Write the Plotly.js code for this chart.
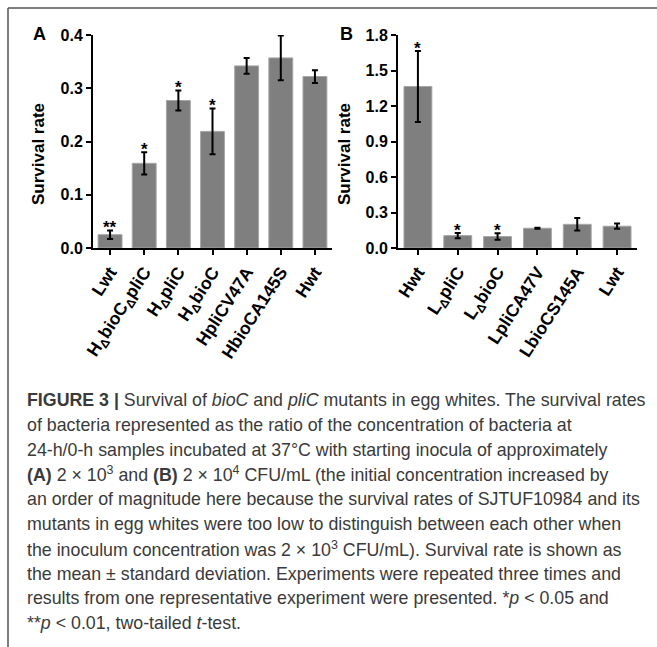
<!DOCTYPE html>
<html>
<head>
<meta charset="utf-8">
<script src="https://cdn.plot.ly/plotly-3.0.1.min.js"></script>
<style>
  html, body { margin: 0; padding: 0; background: #fff; }
  #chart { width: 657px; height: 647px; }
</style>
</head>
<body>
<div id="chart"></div>
<script>
// ---------- data ----------
const labelsA = ['Lwt', 'H<sub>Δ</sub>bioC<sub>Δ</sub>pliC', 'H<sub>Δ</sub>pliC', 'H<sub>Δ</sub>bioC', 'HpliCV47A', 'HbioCA145S', 'Hwt'];
const valuesA = [0.025, 0.159, 0.277, 0.219, 0.342, 0.357, 0.322];
const errorsA = [0.008, 0.021, 0.019, 0.043, 0.015, 0.042, 0.012];
const sigA    = ['**', '*', '*', '*', '', '', ''];

const labelsB = ['Hwt', 'L<sub>Δ</sub>pliC', 'L<sub>Δ</sub>bioC', 'LpliCA47V', 'LbioCS145A', 'Lwt'];
const valuesB = [1.365, 0.105, 0.097, 0.167, 0.200, 0.184];
const errorsB = [0.300, 0.022, 0.027, 0.004, 0.053, 0.022];
const sigB    = ['*', '*', '*', '', '', ''];

const ticksA = [0.0, 0.1, 0.2, 0.3, 0.4];
const ticksB = [0.0, 0.3, 0.6, 0.9, 1.2, 1.5, 1.8];

const yTitle = 'Survival rate';
const panelLetters = ['A', 'B'];

const captionLines = [
  '<b>FIGURE 3 |</b> Survival of <i>bioC</i> and <i>pliC</i> mutants in egg whites. The survival rates',
  'of bacteria represented as the ratio of the concentration of bacteria at',
  '24-h/0-h samples incubated at 37°C with starting inocula of approximately',
  '<b>(A)</b> 2 × 10<sup>3</sup> and <b>(B)</b> 2 × 10<sup>4</sup> CFU/mL (the initial concentration increased by',
  'an order of magnitude here because the survival rates of SJTUF10984 and its',
  'mutants in egg whites were too low to distinguish between each other when',
  'the inoculum concentration was 2 × 10<sup>3</sup> CFU/mL). Survival rate is shown as',
  'the mean ± standard deviation. Experiments were repeated three times and',
  'results from one representative experiment were presented. *<i>p</i> &lt; 0.05 and',
  '**<i>p</i> &lt; 0.01, two-tailed <i>t</i>-test.'
];

// ---------- layout helpers ----------
const W = 657, H = 647;
const px = x => x / W;
const py = y => 1 - y / H;

const FONT = 'Liberation Sans, Arial, Helvetica, sans-serif';
const barColor = '#7f7f7f';

function barTrace(labels, values, errors, xa, ya) {
  return {
    type: 'bar', x: labels, y: values, xaxis: xa, yaxis: ya,
    width: 0.7,
    marker: { color: barColor, line: { color: '#a6a6a6', width: 1 } },
    error_y: { type: 'data', array: errors, visible: true, color: '#000', thickness: 2, width: 3 },
    hoverinfo: 'none', showlegend: false
  };
}

const traces = [
  barTrace(labelsA, valuesA, errorsA, 'x', 'y'),
  barTrace(labelsB, valuesB, errorsB, 'x2', 'y2')
];

const xCommon = {
  type: 'category', showline: true, linewidth: 2, linecolor: '#000',
  ticks: 'outside', ticklen: 5, tickwidth: 2, tickcolor: '#000',
  tickangle: -57, showgrid: false, zeroline: false,
  tickfont: { family: FONT, size: 17.5, color: '#000', weight: 'bold' }
};
const yCommon = {
  showline: true, linewidth: 2, linecolor: '#000',
  ticks: 'outside', ticklen: 5, tickwidth: 2, tickcolor: '#000',
  showgrid: false, zeroline: false, tickformat: '.1f',
  tickfont: { family: FONT, size: 16, color: '#000', weight: 'bold' }
};

const annotations = [];
function addSig(labels, values, errors, sig, xa, ya) {
  sig.forEach((s, i) => {
    if (!s) return;
    annotations.push({
      xref: xa, yref: ya, x: labels[i], y: values[i] + errors[i],
      text: s, showarrow: false, xanchor: 'center', yanchor: 'bottom', yshift: -9,
      font: { family: FONT, size: 17, color: '#000', weight: 'bold' }
    });
  });
}
addSig(labelsA, valuesA, errorsA, sigA, 'x', 'y');
addSig(labelsB, valuesB, errorsB, sigB, 'x2', 'y2');

// axis titles & panel letters
[[38, panelLetters[0], 39], [344, panelLetters[1], 346]].forEach(([tx, letter, lx]) => {
  annotations.push({
    xref: 'paper', yref: 'paper', x: px(tx), y: py(154), text: yTitle, textangle: -90,
    showarrow: false, xanchor: 'center', yanchor: 'middle',
    font: { family: FONT, size: 17, color: '#000', weight: 'bold' }
  });
  annotations.push({
    xref: 'paper', yref: 'paper', x: px(lx), y: py(34), text: letter,
    showarrow: false, xanchor: 'center', yanchor: 'middle',
    font: { family: FONT, size: 18, color: '#000', weight: 'bold' }
  });
});

// caption
captionLines.forEach((line, i) => {
  annotations.push({
    xref: 'paper', yref: 'paper', x: px(25), y: py(400 + i * 24.8), text: line,
    showarrow: false, xanchor: 'left', yanchor: 'middle', align: 'left',
    font: { family: FONT, size: 17.8, color: '#3a3a3a' }
  });
});

const layout = {
  width: W, height: H,
  margin: { l: 0, r: 0, t: 0, b: 0, pad: 0 },
  paper_bgcolor: '#fff', plot_bgcolor: '#fff',
  bargap: 0.3,
  xaxis:  Object.assign({}, xCommon, { domain: [px(93), px(332)], anchor: 'y',  range: [-0.5, 6.5] }),
  yaxis:  Object.assign({}, yCommon, { domain: [py(248), py(35)], anchor: 'x',  range: [0, 0.4], tickvals: ticksA }),
  xaxis2: Object.assign({}, xCommon, { domain: [px(398), px(637)], anchor: 'y2', range: [-0.5, 5.5] }),
  yaxis2: Object.assign({}, yCommon, { domain: [py(248), py(35)], anchor: 'x2', range: [0, 1.8], tickvals: ticksB }),
  annotations: annotations,
  shapes: [
    { type: 'line', xref: 'paper', yref: 'paper', x0: px(8), x1: 1, y0: py(8), y1: py(8), line: { color: '#555', width: 1.5 } },
    { type: 'line', xref: 'paper', yref: 'paper', x0: px(8), x1: px(8), y0: py(8), y1: 0, line: { color: '#555', width: 1.5 } }
  ]
};

Plotly.newPlot('chart', traces, layout, { staticPlot: true, displayModeBar: false });
</script>
</body>
</html>
